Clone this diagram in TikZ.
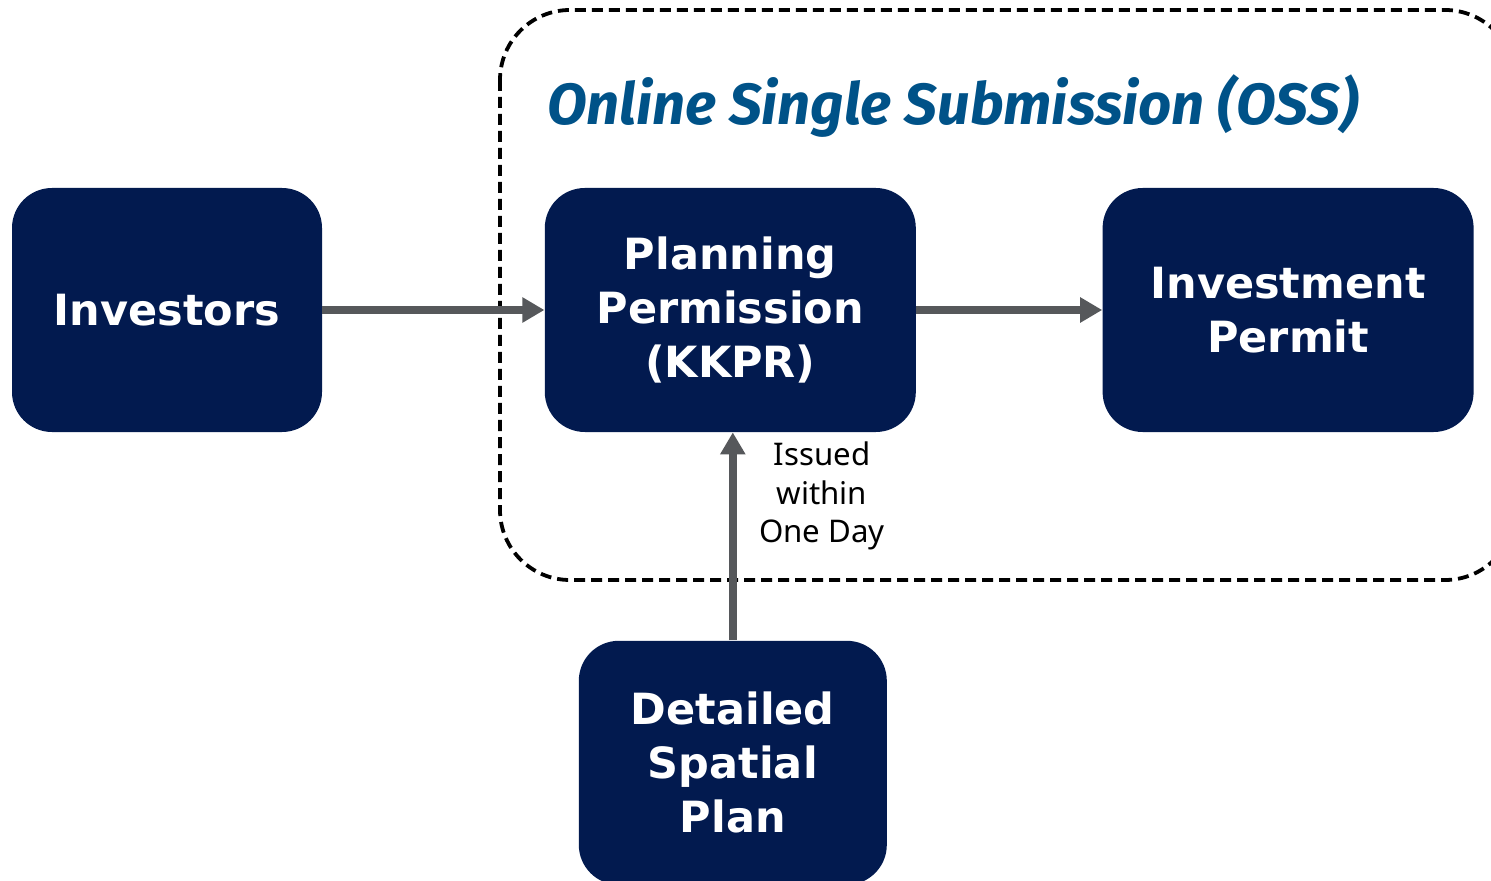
\documentclass[tikz,border=0pt]{standalone}
\usepackage{fontspec}
\setmainfont{DejaVu Sans}
\newfontfamily\titlefont{Fira Sans}
\newfontfamily\notefont{Noto Sans}
\usepackage{xcolor}
\usetikzlibrary{arrows.meta,positioning,calc}
\definecolor{navy}{HTML}{021A4F}
\definecolor{ossblue}{HTML}{005288}
\definecolor{arrgray}{HTML}{56585B}

\begin{document}
\begin{tikzpicture}[
  x=0.5pt, y=-0.5pt,
  node distance=104pt and 111pt,
  blk/.style={fill=navy, text=white, rounded corners=20pt, align=center,
    minimum height=122pt, inner sep=2pt,
    font=\fontsize{21.5}{27}\selectfont\bfseries},
  arr/.style={-{Triangle[length=11pt,width=12pt]}, line width=4pt, draw=arrgray}
]
\useasboundingbox (0,0) rectangle (1491,881);
\draw[line width=1.9pt, dash pattern=on 5.5pt off 3pt, rounded corners=35pt]
  (500,10) rectangle (1515,580);
\node[anchor=base west, text=ossblue, font=\titlefont\fontsize{29}{34}\selectfont\bfseries\itshape]
  (oss) at (540,125) {Online Single Submission (OSS)};

\node[blk, minimum width=155pt] (inv) at (167,310) {Investors};
\node[blk, minimum width=185.5pt, right=of inv] (kkpr) {Planning\\Permission\\(KKPR)};
\node[blk, minimum width=185.5pt, right=93pt of kkpr] (permit) {Investment\\Permit};
\node[blk, minimum width=154pt, below=104pt of kkpr.south, anchor=north, xshift=1.25pt] (rdtr)
  {Detailed\\Spatial\\Plan};
\node[align=center, font=\notefont\fontsize{15.6}{19.3}\selectfont] (day) at (822,496)
  {Issued\\within\\One Day};

\draw[arr] (inv)--(kkpr);
\draw[arr] (kkpr)--(permit);
\draw[arr] (rdtr.north)--(rdtr.north |- kkpr.south);
\end{tikzpicture}
\end{document}
